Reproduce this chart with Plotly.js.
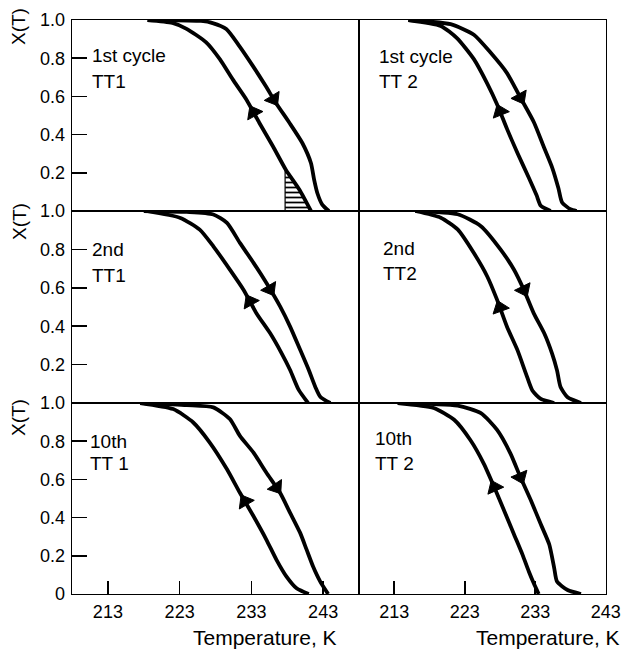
<!DOCTYPE html>
<html>
<head>
<meta charset="utf-8">
<script src="https://cdn.plot.ly/plotly-3.0.1.min.js"></script>
<style>html,body{margin:0;padding:0;background:#fff}#chart{width:627px;height:649px}</style>
</head>
<body>
<div id="chart"></div>
<script>
// ---------- DATA ----------
const xTicks = [213, 223, 233, 243];
const yTicksTop = [0.2, 0.4, 0.6, 0.8, 1.0];
const yTicksBottom = [0, 0.2, 0.4, 0.6, 0.8, 1.0];
const yTickTextTop = ["0.2", "0.4", "0.6", "0.8", "1.0"];
const yTickTextBottom = ["0", "0.2", "0.4", "0.6", "0.8", "1.0"];
const panelLabels = [["1st cycle", "TT1"], ["1st cycle", "TT 2"], ["2nd", "TT1"], ["2nd", "TT2"], ["10th", "TT 1"], ["10th", "TT 2"]];
const axisTitleX = "Temperature, K";
const axisTitleY = "X(T)";

// Panel 1: 1st cycle, TT1
const p1DownT = [220.2, 226.0, 227.6, 229.5, 231.3, 233.2, 235.0, 236.4, 238.3, 240.1, 241.3, 241.75, 242.2, 242.9, 243.8];
const p1DownX = [1.0, 0.995, 0.984, 0.953, 0.865, 0.76, 0.654, 0.567, 0.462, 0.356, 0.251, 0.163, 0.093, 0.032, 0.0];
const p1UpT = [218.5, 222.0, 223.9, 226.7, 228.6, 230.4, 232.3, 234.1, 236.0, 237.8, 239.7, 241.3];
const p1UpX = [1.0, 0.985, 0.955, 0.883, 0.795, 0.689, 0.584, 0.462, 0.339, 0.216, 0.111, 0.0];
// Panel 2: 1st cycle, TT2
const p2DownT = [215.0, 221.0, 224.3, 226.6, 229.0, 230.9, 232.8, 234.2, 235.4, 236.3, 236.8, 238.0, 238.9];
const p2DownX = [1.0, 0.978, 0.923, 0.832, 0.722, 0.594, 0.466, 0.338, 0.229, 0.119, 0.046, 0.009, 0.0];
const p2UpT = [215.0, 219.6, 221.9, 224.3, 226.2, 227.6, 229.0, 230.5, 232.1, 233.2, 233.8, 235.2];
const p2UpX = [1.0, 0.969, 0.905, 0.795, 0.667, 0.558, 0.43, 0.302, 0.174, 0.082, 0.027, 0.0];
// Panel 3: 2nd, TT1
const p3DownT = [218.0, 224.0, 227.7, 229.6, 231.4, 233.3, 235.1, 237.0, 238.4, 239.8, 241.0, 241.9, 242.6, 244.0];
const p3DownX = [1.0, 0.995, 0.982, 0.938, 0.834, 0.730, 0.625, 0.503, 0.398, 0.277, 0.172, 0.085, 0.033, 0.0];
const p3UpT = [218.4, 223.1, 225.8, 227.7, 230.0, 231.9, 233.7, 235.6, 237.2, 238.4, 239.6, 240.9];
const p3UpX = [1.0, 0.964, 0.903, 0.816, 0.695, 0.590, 0.468, 0.364, 0.260, 0.172, 0.068, 0.0];
// Panel 4: 2nd, TT2
const p4DownT = [216.0, 222.0, 225.3, 228.1, 230.0, 231.4, 232.8, 234.3, 235.4, 236.1, 236.6, 237.6, 239.5];
const p4DownX = [1.0, 0.983, 0.921, 0.799, 0.694, 0.589, 0.467, 0.362, 0.257, 0.170, 0.083, 0.030, 0.0];
const p4UpT = [216.0, 219.6, 222.0, 224.3, 226.2, 227.6, 229.0, 230.5, 231.7, 232.6, 233.8, 235.7];
const p4UpX = [1.0, 0.965, 0.904, 0.781, 0.659, 0.537, 0.397, 0.274, 0.152, 0.065, 0.021, 0.0];
// Panel 5: 10th, TT1
const p5DownT = [218.0, 224.0, 227.7, 230.0, 231.4, 233.3, 235.1, 237.0, 238.4, 239.8, 240.7, 241.6, 242.6, 243.7];
const p5DownX = [1.0, 0.989, 0.977, 0.916, 0.828, 0.74, 0.635, 0.53, 0.425, 0.32, 0.232, 0.144, 0.065, 0.0];
const p5UpT = [217.5, 222.1, 224.9, 227.2, 229.6, 231.4, 233.3, 235.1, 236.5, 237.9, 239.3, 241.0];
const p5UpX = [1.0, 0.968, 0.898, 0.793, 0.653, 0.53, 0.407, 0.284, 0.179, 0.091, 0.03, 0.0];
// Panel 6: 10th, TT2
const p6DownT = [213.5, 222.0, 225.3, 227.6, 229.5, 230.9, 232.4, 233.8, 235.0, 235.7, 236.1, 237.6, 239.5];
const p6DownX = [1.0, 0.986, 0.947, 0.859, 0.735, 0.612, 0.489, 0.365, 0.259, 0.136, 0.065, 0.021, 0.0];
const p6UpT = [213.5, 218.6, 221.5, 223.8, 225.7, 227.2, 228.6, 230.0, 231.2, 232.1, 232.8, 233.5];
const p6UpX = [1.0, 0.974, 0.912, 0.806, 0.683, 0.559, 0.436, 0.312, 0.206, 0.118, 0.056, 0.0];

// Arrow positions (temperature along each curve)
const arrowDownT = [236.1, 230.9, 235.6, 231.4, 236.5, 230.9];
const arrowUpT = [233.3, 228.0, 232.8, 228.0, 232.1, 227.2];
// Hatched area start (panel 1)
const hatchStartT = 237.7;

// ---------- LAYOUT ----------
const W = 627, H = 649;
const colPx = [[72, 359], [359, 606]];
const rowPx = [[20, 211], [211, 403], [403, 594]];
const colRange = [[208, 248], [208, 243.05]];
const fx = p => p / W;
const fy = p => 1 - p / H;

const panels = [
  [p1DownT, p1DownX, p1UpT, p1UpX],
  [p2DownT, p2DownX, p2UpT, p2UpX],
  [p3DownT, p3DownX, p3UpT, p3UpX],
  [p4DownT, p4DownX, p4UpT, p4UpX],
  [p5DownT, p5DownX, p5UpT, p5UpX],
  [p6DownT, p6DownX, p6UpT, p6UpX]
];

function interp(T, X, t) {
  for (let i = 0; i < T.length - 1; i++) {
    if (t >= T[i] && t <= T[i + 1]) {
      const f = (t - T[i]) / (T[i + 1] - T[i]);
      return { y: X[i] + f * (X[i + 1] - X[i]), dT: T[i + 1] - T[i], dX: X[i + 1] - X[i] };
    }
  }
  return { y: X[X.length - 1], dT: 1, dX: -1 };
}

const font = "Liberation Sans, Arial, sans-serif";
const traces = [];
const layout = {
  width: W, height: H,
  margin: { l: 0, r: 0, t: 0, b: 0 },
  paper_bgcolor: "#fff", plot_bgcolor: "#fff",
  showlegend: false,
  font: { family: font, color: "#000", size: 18 },
  annotations: []
};

panels.forEach((p, i) => {
  const row = Math.floor(i / 2), col = i % 2;
  const n = i + 1;
  const xa = n === 1 ? "x" : "x" + n, ya = n === 1 ? "y" : "y" + n;
  const xk = n === 1 ? "xaxis" : "xaxis" + n, yk = n === 1 ? "yaxis" : "yaxis" + n;
  const bottom = row === 2, left = col === 0;
  layout[xk] = {
    domain: [fx(colPx[col][0]), fx(colPx[col][1])],
    range: colRange[col], anchor: ya,
    showline: true, mirror: true, linecolor: "#000", linewidth: 1.3,
    showgrid: false, zeroline: false,
    ticks: bottom ? "inside" : "", ticklen: 13, tickwidth: 1.6, tickcolor: "#000",
    tickvals: xTicks, showticklabels: bottom, ticklabelstandoff: 1,
    tickfont: { family: font, size: 18, color: "#000" }, fixedrange: true
  };
  layout[yk] = {
    domain: [fy(rowPx[row][1]), fy(rowPx[row][0])],
    range: [0, 1], anchor: xa,
    showline: true, mirror: true, linecolor: "#000", linewidth: 1.3,
    showgrid: false, zeroline: false,
    ticks: left ? "inside" : "", ticklen: 15, tickwidth: 1.6, tickcolor: "#000",
    tickvals: bottom ? yTicksBottom : yTicksTop,
    ticktext: bottom ? yTickTextBottom : yTickTextTop,
    showticklabels: left, ticklabelstandoff: 2,
    tickfont: { family: font, size: 18, color: "#000" }, fixedrange: true
  };

  const [dT, dX, uT, uX] = p;
  // hatched region (panel 1)
  if (i === 0) {
    const hx = [hatchStartT, hatchStartT], hy = [0, interp(uT, uX, hatchStartT).y];
    uT.forEach((t, k) => { if (t > hatchStartT) { hx.push(t); hy.push(uX[k]); } });
    hx.push(hatchStartT); hy.push(0);
    traces.push({
      x: hx, y: hy, xaxis: xa, yaxis: ya, mode: "lines", fill: "toself",
      fillcolor: "rgba(0,0,0,0)",
      fillpattern: { shape: "-", fgcolor: "#000", bgcolor: "#fff", size: 5, solidity: 0.35 },
      line: { color: "#000", width: 1.2 }, hoverinfo: "skip"
    });
  }
  [[dT, dX], [uT, uX]].forEach(([T, X]) => {
    traces.push({
      x: T, y: X, xaxis: xa, yaxis: ya, mode: "lines",
      line: { color: "#000", width: 3.8, shape: "spline", smoothing: 0.6 },
      hoverinfo: "skip"
    });
  });
  // arrows
  const ad = interp(dT, dX, arrowDownT[i]);
  const au = interp(uT, uX, arrowUpT[i]);
  const arrowMarker = { symbol: "triangle-up", size: [0, 15], color: "#000", opacity: 1, angleref: "previous", line: { width: 1, color: "#000" } };
  traces.push({
    x: [arrowDownT[i] - 0.05 * ad.dT, arrowDownT[i]],
    y: [ad.y - 0.05 * ad.dX, ad.y],
    xaxis: xa, yaxis: ya, mode: "markers", opacity: 1,
    marker: arrowMarker, hoverinfo: "skip"
  });
  traces.push({
    x: [arrowUpT[i] + 0.05 * au.dT, arrowUpT[i]],
    y: [au.y + 0.05 * au.dX, au.y],
    xaxis: xa, yaxis: ya, mode: "markers", opacity: 1,
    marker: arrowMarker, hoverinfo: "skip"
  });
});

// panel text labels (pixel positions of the reference)
const labelPos = [[90, 55, 82], [377, 57, 82], [90, 250, 275], [381, 249, 274], [88, 441, 464], [373, 438, 464]];
panelLabels.forEach((lab, i) => {
  const [lx, y1, y2] = labelPos[i];
  layout.annotations.push({ xref: "paper", yref: "paper", x: fx(lx), y: fy(y1), xanchor: "left", yanchor: "middle", text: lab[0], showarrow: false, font: { family: font, size: 19, color: "#000" } });
  layout.annotations.push({ xref: "paper", yref: "paper", x: fx(lx), y: fy(y2), xanchor: "left", yanchor: "middle", text: lab[1], showarrow: false, font: { family: font, size: 19, color: "#000" } });
});
// Y axis titles
[27, 222, 418].forEach(py => {
  layout.annotations.push({ xref: "paper", yref: "paper", x: fx(19), y: fy(py), xanchor: "center", yanchor: "middle", text: axisTitleY, textangle: -90, showarrow: false, font: { family: font, size: 19, color: "#000" } });
});
// X axis titles
[265, 548].forEach(px => {
  layout.annotations.push({ xref: "paper", yref: "paper", x: fx(px), y: fy(637), xanchor: "center", yanchor: "middle", text: axisTitleX, showarrow: false, font: { family: font, size: 21, color: "#000" } });
});

Plotly.newPlot("chart", traces, layout, { staticPlot: true, displayModeBar: false });
</script>
</body>
</html>
